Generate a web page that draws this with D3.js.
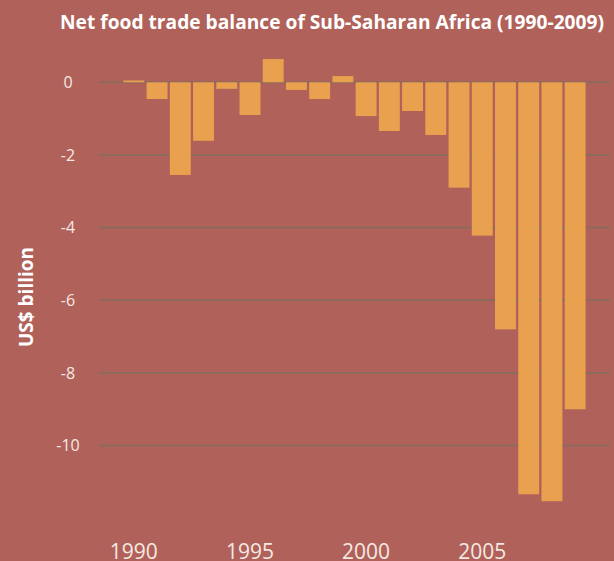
<!DOCTYPE html>
<html>
<head>
<meta charset="utf-8">
<script src="https://cdn.jsdelivr.net/npm/d3@7"></script>
<style>
  html, body { margin: 0; padding: 0; background: #b0625a; }
  svg { display: block; }
</style>
</head>
<body>
<svg id="chart" width="614" height="561"></svg>
<script>
// data
const years = d3.range(1990, 2010);
const balance = [0.05, -0.46, -2.55, -1.61, -0.18, -0.9, 0.64, -0.21, -0.46, 0.17,
                 -0.93, -1.34, -0.79, -1.45, -2.9, -4.22, -6.8, -11.34, -11.53, -9.0];
const yTicks = [0, -2, -4, -6, -8, -10];
const xTicks = [1990, 1995, 2000, 2005];

const svg = d3.select('#chart');
const font = '"Open Sans", "Noto Sans", sans-serif';

svg.append('rect')
  .attr('width', 614).attr('height', 561)
  .attr('fill', '#b0625a');

// one extra band either side of the data
let x = d3.scaleBand()
  .domain(d3.range(1989, 2011))
  .range([99, 610])
  .paddingInner(0.1)
  .paddingOuter(0.05);

let y = d3.scaleLinear()
  .domain([-10, 0])
  .range([445.6, 82.3]);

// gridlines
svg.append('g')
  .selectAll('line')
  .data(yTicks)
  .join('line')
  .attr('x1', 99).attr('x2', 610)
  .attr('y1', d => y(d)).attr('y2', d => y(d))
  .attr('stroke', '#8c6a5c')
  .attr('stroke-width', 2);

// y tick labels
svg.append('g')
  .selectAll('text')
  .data(yTicks)
  .join('text')
  .attr('x', 68)
  .attr('y', d => y(d))
  .attr('dy', '0.35em')
  .attr('text-anchor', 'middle')
  .attr('fill', '#f6e9e4')
  .style('font-family', font)
  .style('font-size', '16px')
  .text(d => d === 0 ? '0' : '-' + Math.abs(d));

// bars
svg.append('g')
  .selectAll('rect')
  .data(years)
  .join('rect')
  .attr('x', d => x(d))
  .attr('width', x.bandwidth())
  .attr('y', (d, i) => y(Math.max(0, balance[i])))
  .attr('height', (d, i) => Math.abs(y(balance[i]) - y(0)))
  .attr('fill', '#e9a14f');

// x tick labels (cut at the bottom edge, as in the original)
svg.append('g')
  .selectAll('text')
  .data(xTicks)
  .join('text')
  .attr('x', d => x(d) + x.bandwidth() / 2)
  .attr('y', 559)
  .attr('text-anchor', 'middle')
  .attr('fill', '#f6e9e4')
  .style('font-family', font)
  .style('font-size', '21px')
  .text(d => d);

// title
svg.append('text')
  .attr('x', 60)
  .attr('y', 29)
  .attr('fill', '#ffffff')
  .attr('textLength', 544)
  .attr('lengthAdjust', 'spacingAndGlyphs')
  .style('font-family', font)
  .style('font-weight', 'bold')
  .style('font-size', '20px')
  .text('Net food trade balance of Sub-Saharan Africa (1990-2009)');

// y axis title
svg.append('text')
  .attr('transform', 'translate(33,297) rotate(-90)')
  .attr('text-anchor', 'middle')
  .attr('fill', '#ffffff')
  .style('font-family', font)
  .style('font-weight', 'bold')
  .style('font-size', '19px')
  .text('US$ billion');
</script>
</body>
</html>
